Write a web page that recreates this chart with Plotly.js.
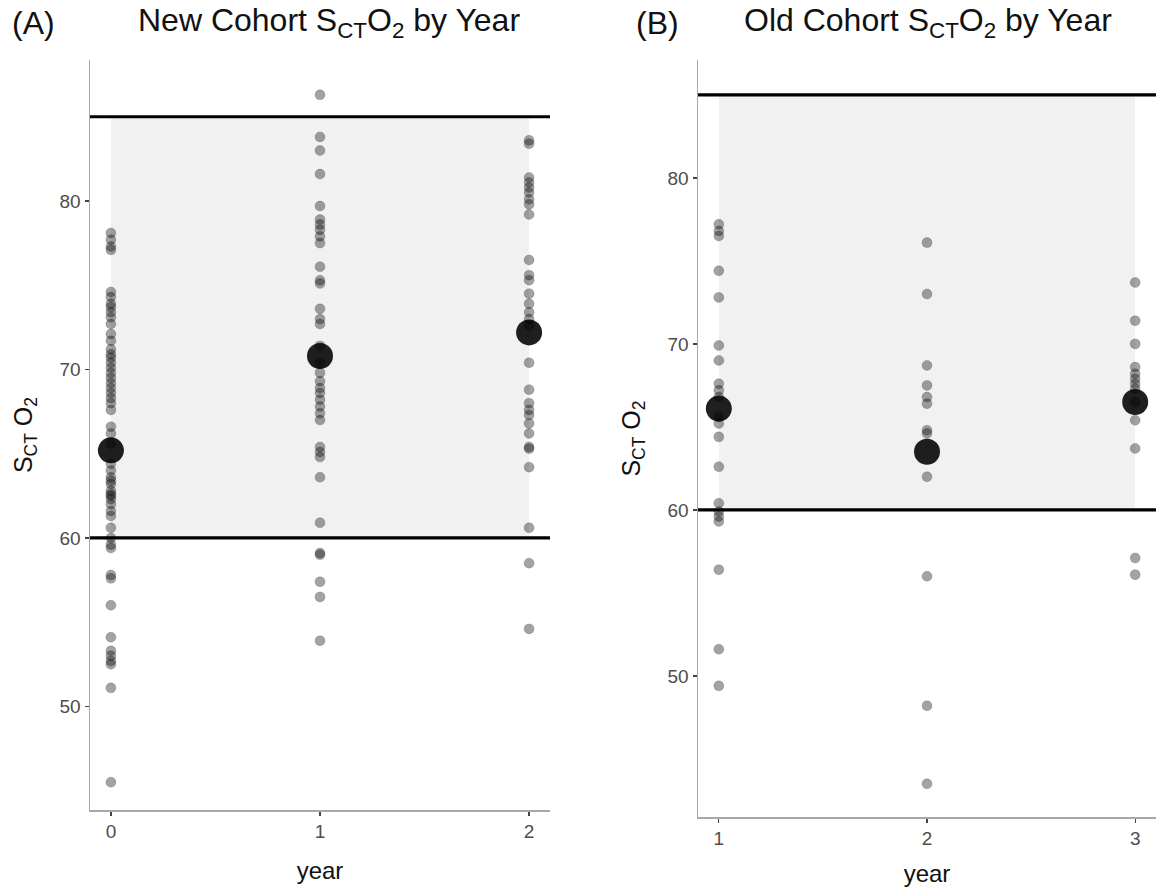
<!DOCTYPE html>
<html>
<head>
<meta charset="utf-8">
<script src="https://cdn.plot.ly/plotly-3.0.1.min.js"></script>
<style>html,body{margin:0;padding:0;background:#fff;}#chart{width:1158px;height:890px;}</style>
</head>
<body>
<div id="chart"></div>
<script>
// ---- Data ----
const yearsNew = [0, 1, 2];
const newYear0 = [78.1, 77.7, 77.3, 77.1, 74.6, 74.3, 73.9, 73.7, 73.4, 73.1, 72.7, 72.1, 71.7, 71.2, 70.9, 70.7, 70.4, 70.1, 69.8, 69.5, 69.2, 68.9, 68.6, 68.3, 68.0, 67.6, 66.6, 66.2, 65.6, 64.4, 64.0, 63.6, 63.4, 63.2, 62.8, 62.6, 62.5, 62.3, 62.0, 61.6, 61.3, 60.6, 60.0, 59.6, 59.4, 57.8, 57.6, 56.0, 54.1, 53.3, 53.0, 52.7, 52.5, 51.1, 45.5];
const newYear1 = [86.3, 83.8, 83.0, 81.6, 79.7, 78.9, 78.6, 78.3, 77.9, 77.5, 76.1, 75.3, 75.1, 73.6, 73.0, 72.7, 71.4, 70.4, 69.8, 69.3, 68.9, 68.6, 68.2, 67.8, 67.4, 67.0, 65.4, 65.1, 64.8, 63.6, 60.9, 59.1, 59.0, 57.4, 56.5, 53.9];
const newYear2 = [83.6, 83.4, 81.4, 81.1, 80.8, 80.5, 80.1, 79.8, 79.2, 76.5, 75.6, 75.3, 74.5, 73.9, 73.4, 73.0, 72.6, 70.4, 68.8, 68.0, 67.6, 67.3, 66.8, 66.2, 65.4, 65.3, 64.2, 60.6, 58.5, 54.6];
const newMeans = [65.2, 70.8, 72.2];

const yearsOld = [1, 2, 3];
const oldYear1 = [77.2, 76.8, 76.5, 74.4, 72.8, 69.9, 69.0, 67.6, 67.2, 66.8, 65.6, 65.2, 64.4, 62.6, 60.4, 59.9, 59.6, 59.3, 56.4, 51.6, 49.4];
const oldYear2 = [76.1, 73.0, 68.7, 67.5, 66.8, 66.4, 64.8, 64.6, 62.0, 56.0, 48.2, 43.5];
const oldYear3 = [73.7, 71.4, 70.0, 68.6, 68.2, 67.9, 67.6, 67.3, 66.5, 65.4, 63.7, 57.1, 56.1];
const oldMeans = [66.1, 63.5, 66.5];

const bandLow = 60;
const bandHigh = 85;

const xTicksNew = ['0', '1', '2'];
const xTicksOld = ['1', '2', '3'];
const yTicks = [50, 60, 70, 80];

// ---- Build traces ----
function pointTrace(xv, vals, xa, ya) {
  return {
    type: 'scatter', mode: 'markers',
    x: vals.map(() => xv), y: vals,
    xaxis: xa, yaxis: ya,
    marker: {size: 10, color: 'rgba(0,0,0,0.36)', line: {width: 0.8, color: 'rgba(0,0,0,0.2)'}},
    hoverinfo: 'x+y', showlegend: false
  };
}
function meanTrace(xs, means, xa, ya) {
  return {
    type: 'scatter', mode: 'markers', x: xs, y: means, xaxis: xa, yaxis: ya,
    marker: {size: 26, color: 'rgba(0,0,0,0.88)'},
    showlegend: false
  };
}
const newGroups = [newYear0, newYear1, newYear2];
const oldGroups = [oldYear1, oldYear2, oldYear3];
const traces = [];
newGroups.forEach((g, i) => traces.push(pointTrace(yearsNew[i], g, 'x', 'y')));
traces.push(meanTrace(yearsNew, newMeans, 'x', 'y'));
oldGroups.forEach((g, i) => traces.push(pointTrace(yearsOld[i], g, 'x2', 'y2')));
traces.push(meanTrace(yearsOld, oldMeans, 'x2', 'y2'));

// ---- Layout ----
const W = 1158, H = 890;
const px = v => v / W, py = v => 1 - v / H;
const fontFam = '"Liberation Sans", Arial, sans-serif';

function xAxis(domain, range, ticks, tickvals, anchor, standoff) {
  return {
    domain: domain, range: range, anchor: anchor,
    tickvals: tickvals, ticktext: ticks,
    showgrid: false, zeroline: false,
    showline: true, linecolor: '#a8a8a8', linewidth: 1.5,
    ticks: 'outside', ticklen: 4, tickcolor: '#444', tickwidth: 1.3,
    tickfont: {size: 19, color: '#4d4d4d', family: fontFam},
    title: {text: 'year', font: {size: 24, color: '#111', family: fontFam}, standoff: standoff}
  };
}
function yAxis(domain, range, anchor) {
  return {
    domain: domain, range: range, anchor: anchor,
    tickvals: yTicks,
    showgrid: false, zeroline: false,
    showline: true, linecolor: '#a8a8a8', linewidth: 1.5,
    ticks: 'outside', ticklen: 4, tickcolor: '#444', tickwidth: 1.3,
    tickfont: {size: 19, color: '#4d4d4d', family: fontFam},
    title: {text: 'S<sub>CT</sub> O<sub>2</sub>', font: {size: 25, color: '#111', family: fontFam}, standoff: 20}
  };
}

function bandShapes(xs, xa, ya) {
  return [
    {type: 'rect', xref: xa, yref: ya, x0: xs[0], x1: xs[xs.length - 1], y0: bandLow, y1: bandHigh,
     fillcolor: '#f1f1f1', line: {width: 0}, layer: 'below'},
    {type: 'line', xref: xa + ' domain', yref: ya, x0: 0, x1: 1, y0: bandHigh, y1: bandHigh,
     line: {color: '#000', width: 3.2}},
    {type: 'line', xref: xa + ' domain', yref: ya, x0: 0, x1: 1, y0: bandLow, y1: bandLow,
     line: {color: '#000', width: 3.2}}
  ];
}

const layout = {
  width: W, height: H,
  margin: {l: 0, r: 0, t: 0, b: 0},
  paper_bgcolor: '#fff', plot_bgcolor: 'rgba(0,0,0,0)',
  font: {family: fontFam},
  showlegend: false,
  xaxis: xAxis([px(90), px(550)], [-0.1, 2.1], xTicksNew, yearsNew, 'y', 21),
  yaxis: yAxis([py(810), py(60)], [43.85, 88.37], 'x'),
  xaxis2: xAxis([px(698), px(1156)], [0.9, 3.1], xTicksOld, yearsOld, 'y2', 17),
  yaxis2: yAxis([py(817), py(60)], [41.5, 87.1], 'x2'),
  shapes: bandShapes(yearsNew, 'x', 'y').concat(bandShapes(yearsOld, 'x2', 'y2')),
  annotations: [
    {text: '(A)', xref: 'paper', yref: 'paper', x: px(33), y: py(23), xanchor: 'center', yanchor: 'middle',
     showarrow: false, font: {size: 32, color: '#111', family: fontFam}},
    {text: 'New Cohort S<sub>CT</sub>O<sub>2</sub> by Year', xref: 'paper', yref: 'paper', x: px(329), y: py(23),
     xanchor: 'center', yanchor: 'middle', showarrow: false, font: {size: 32, color: '#111', family: fontFam}},
    {text: '(B)', xref: 'paper', yref: 'paper', x: px(658), y: py(23), xanchor: 'center', yanchor: 'middle',
     showarrow: false, font: {size: 32, color: '#111', family: fontFam}},
    {text: 'Old Cohort S<sub>CT</sub>O<sub>2</sub> by Year', xref: 'paper', yref: 'paper', x: px(928), y: py(23),
     xanchor: 'center', yanchor: 'middle', showarrow: false, font: {size: 32, color: '#111', family: fontFam}}
  ]
};

Plotly.newPlot('chart', traces, layout, {displayModeBar: false, staticPlot: true});
</script>
</body>
</html>
